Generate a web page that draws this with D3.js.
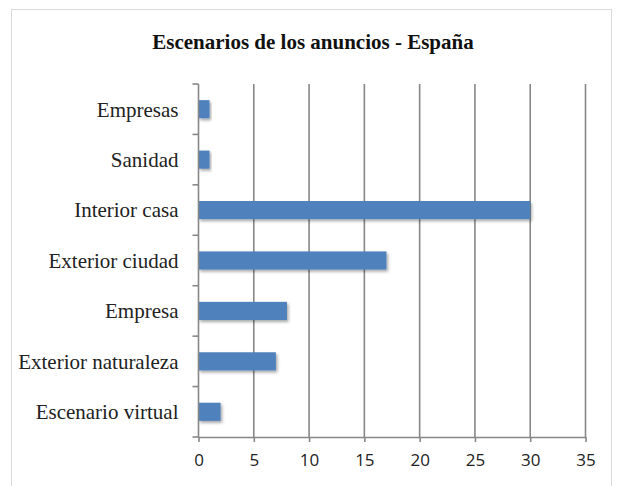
<!DOCTYPE html>
<html>
<head>
  <meta charset="utf-8">
  <title>Escenarios de los anuncios - España</title>
  <style>
  body { margin: 0; background: #fff; }
  svg { display: block; }
  </style>
</head>
<body>
  <svg width="617" height="486"></svg>
  <script src="https://d3js.org/d3.v7.min.js"></script>
  <script>
    var categories = ["Empresas", "Sanidad", "Interior casa", "Exterior ciudad", "Empresa", "Exterior naturaleza", "Escenario virtual"];
    var values = [1, 1, 30, 17, 8, 7, 2];
    var xTicks = [0, 5, 10, 15, 20, 25, 30, 35];

    var svg = d3.select("svg");
    var serif = "'Liberation Serif', 'Times New Roman', serif";
    var sans = "'Open Sans', 'Noto Sans', sans-serif";
    var grey = "#878787";

    // chart frame
    svg.append("rect")
      .attr("x", 11.5).attr("y", 9.5)
      .attr("width", 600).attr("height", 478)
      .attr("fill", "#fff")
      .attr("stroke", "#d9d9d9");

    svg.append("text")
      .attr("x", 313).attr("y", 49)
      .attr("text-anchor", "middle")
      .style("font-family", serif)
      .style("font-weight", "bold")
      .style("font-size", "21px")
      .attr("fill", "#111")
      .text("Escenarios de los anuncios - España");

    var xScale = d3.scaleLinear().domain([0, 35]).range([198.5, 585.5]);
    var yScale = d3.scaleBand().domain(categories).range([84, 437]).paddingInner(0.64).paddingOuter(0.32);

    var defs = svg.append("defs");
    var f = defs.append("filter").attr("id", "shadow").attr("x", "-10%").attr("y", "-30%").attr("width", "130%").attr("height", "180%");
    f.append("feDropShadow").attr("dx", 1.5).attr("dy", 2).attr("stdDeviation", 1.5).attr("flood-color", "#000").attr("flood-opacity", 0.35);

    // gridlines
    svg.append("g")
      .selectAll("line")
      .data(xTicks.slice(1))
      .join("line")
      .attr("x1", d => xScale(d)).attr("x2", d => xScale(d))
      .attr("y1", 84).attr("y2", 437)
      .attr("stroke", grey)
      .attr("stroke-width", 1.6);

    svg.append("g")
      .selectAll("rect")
      .data(values)
      .join("rect")
      .attr("x", xScale(0))
      .attr("y", (d, i) => yScale(categories[i]))
      .attr("width", d => xScale(d) - xScale(0))
      .attr("height", yScale.bandwidth())
      .attr("fill", "#4f81bd")
      .attr("filter", "url(#shadow)");

    var xAxis = svg.append("g")
      .attr("transform", "translate(0,437)")
      .call(d3.axisBottom(xScale).tickValues(xTicks).tickSize(5).tickPadding(12).tickSizeOuter(0));
    xAxis.select(".domain").attr("stroke", grey).attr("stroke-width", 1.6);
    xAxis.selectAll(".tick line").attr("stroke", grey).attr("stroke-width", 1.6);
    xAxis.selectAll("text").style("font-family", sans).style("font-size", "17px").attr("fill", "#222");

    var yAxisScale = d3.scalePoint().domain(d3.range(categories.length + 1)).range([84, 437]);
    var yAxis = svg.append("g").attr("transform", "translate(198.5,0)");
    yAxis.append("line")
      .attr("x1", 0).attr("x2", 0).attr("y1", 84).attr("y2", 437)
      .attr("stroke", grey).attr("stroke-width", 1.6);
    yAxis.selectAll("line.t")
      .data(yAxisScale.domain())
      .join("line")
      .attr("class", "t")
      .attr("x1", -6).attr("x2", 0)
      .attr("y1", d => yAxisScale(d)).attr("y2", d => yAxisScale(d))
      .attr("stroke", grey).attr("stroke-width", 1.6);
    yAxis.selectAll("text")
      .data(categories)
      .join("text")
      .attr("x", -20)
      .attr("y", d => yScale(d) + yScale.bandwidth() / 2)
      .attr("dy", "0.35em")
      .attr("text-anchor", "end")
      .style("font-family", serif)
      .style("font-size", "21px")
      .attr("fill", "#222")
      .text(d => d);
  </script>
</body>
</html>
